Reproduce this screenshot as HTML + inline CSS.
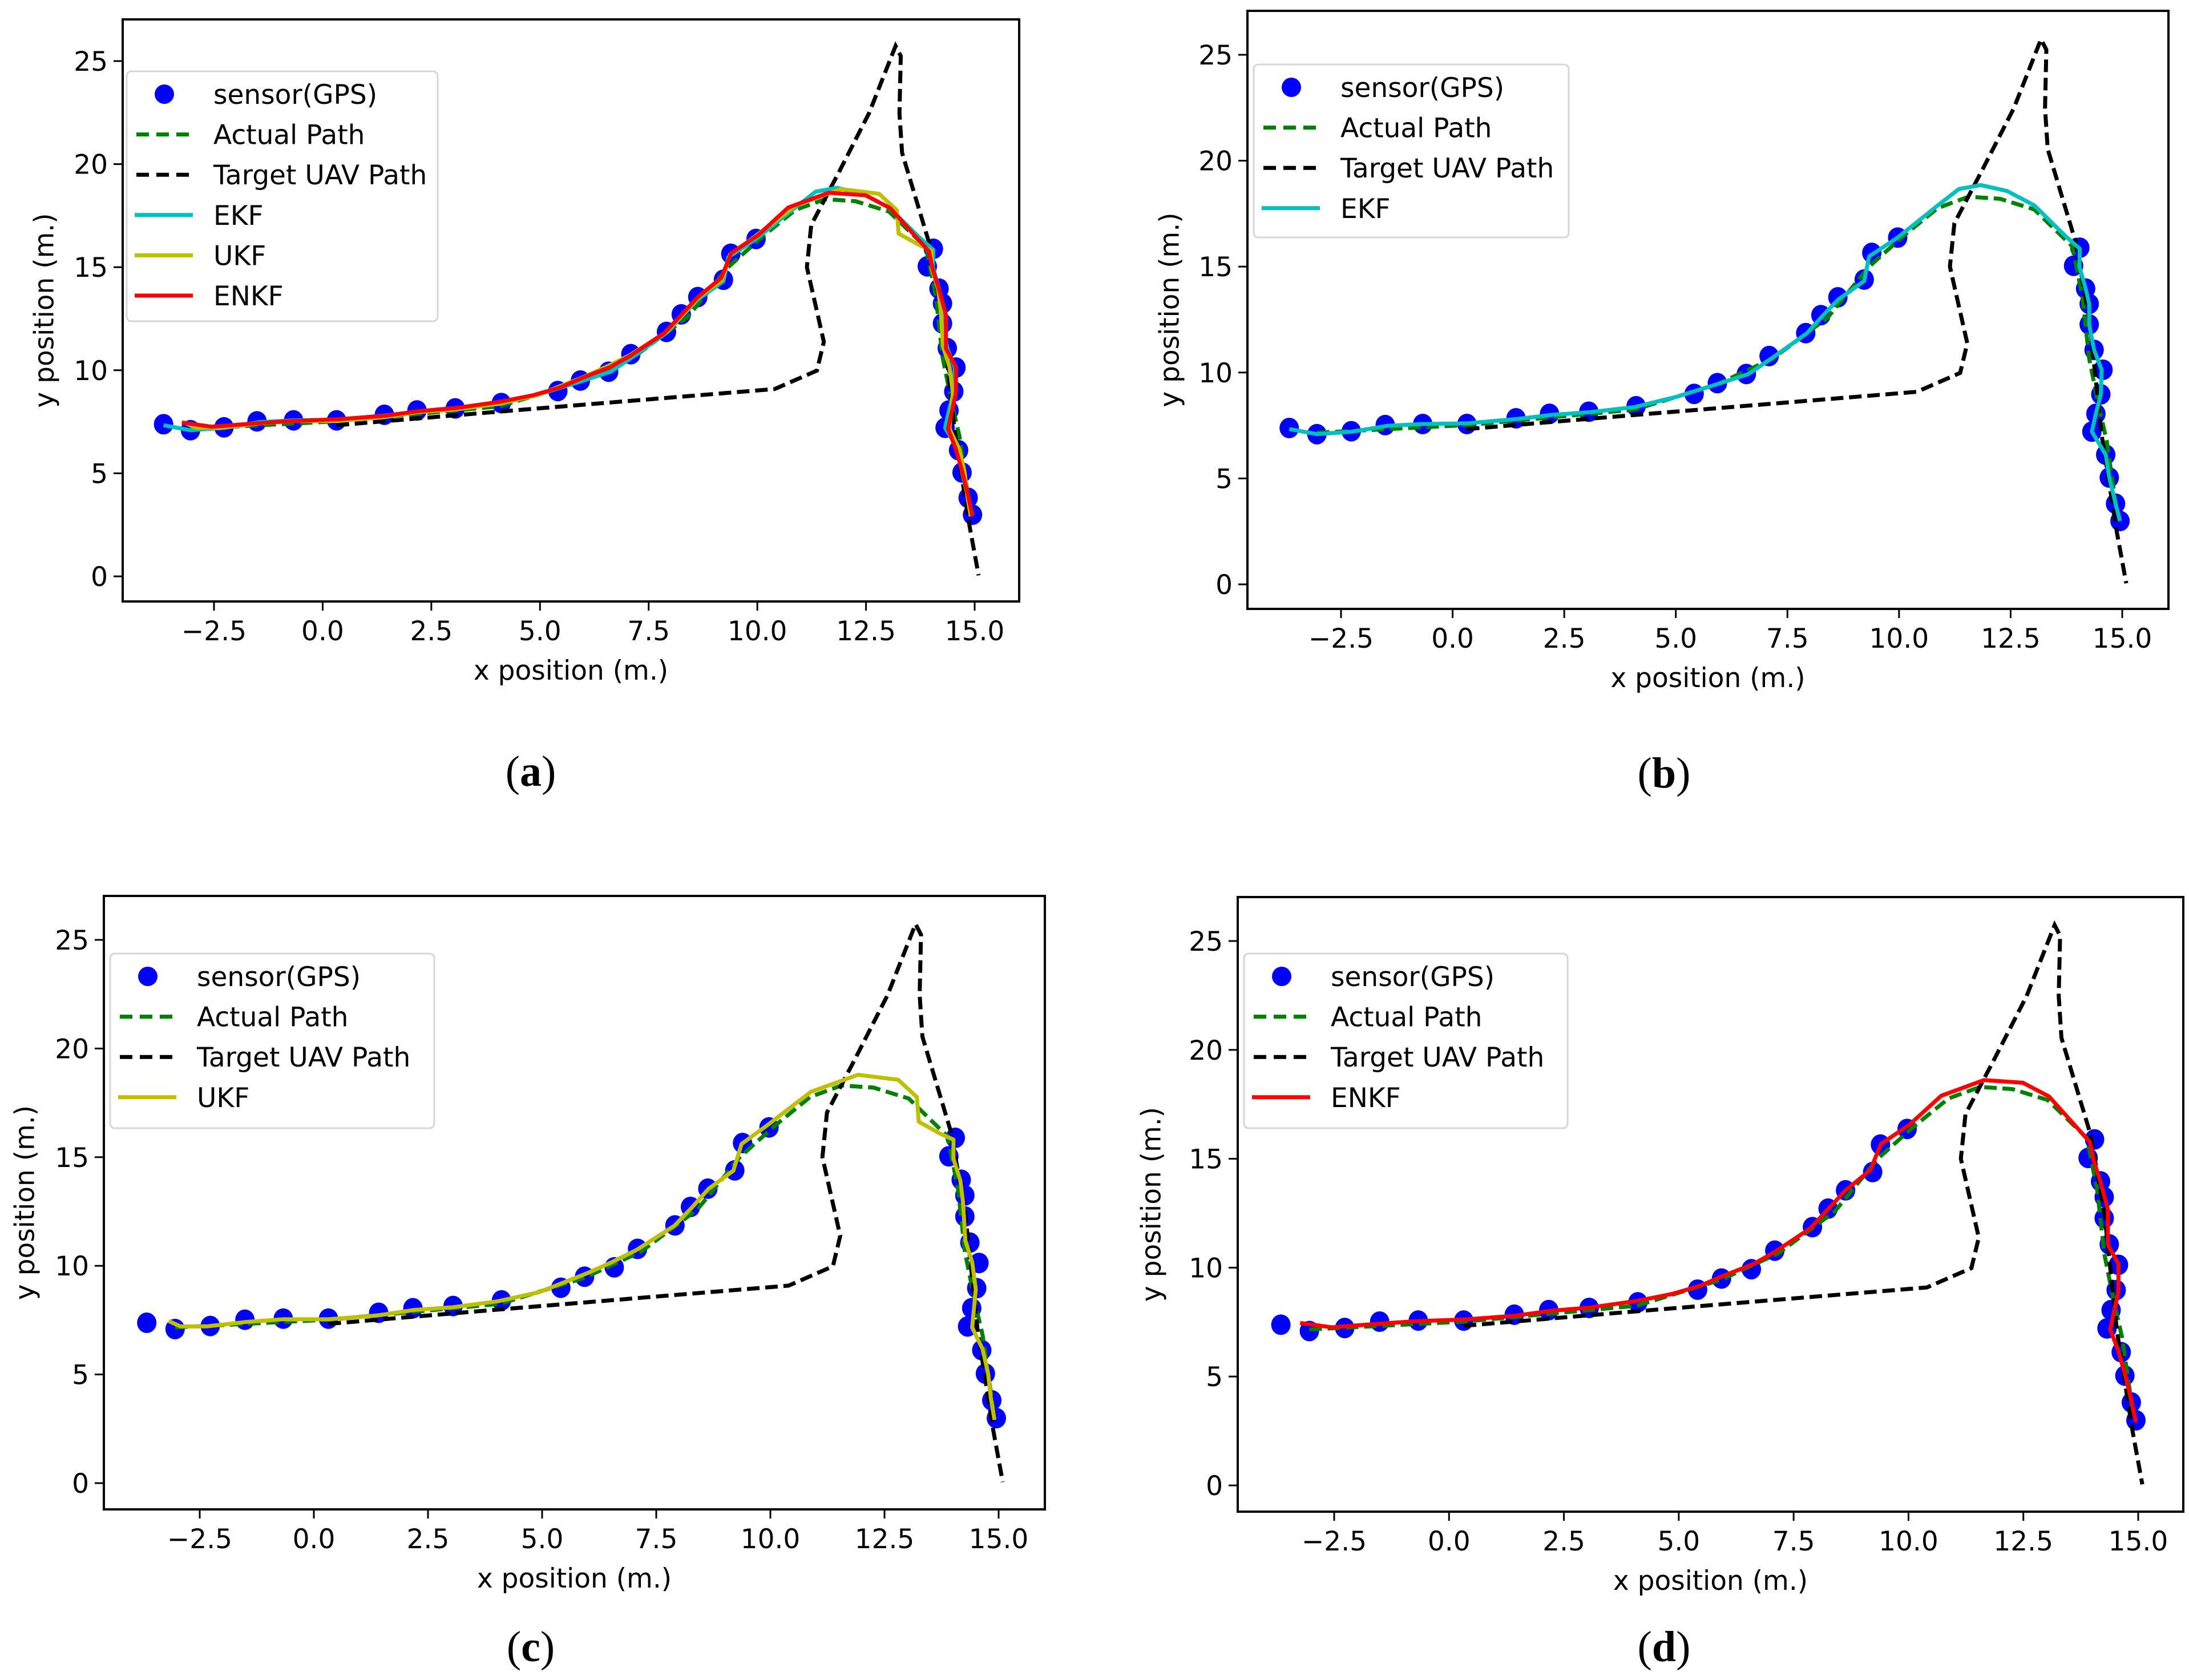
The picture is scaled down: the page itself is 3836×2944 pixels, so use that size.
<!DOCTYPE html>
<html><head><meta charset="utf-8">
<style>
html,body{margin:0;padding:0;background:#fff;}
svg{display:block;}
text{font-family:"DejaVu Sans","Liberation Sans",sans-serif;}
.cap{font-family:"Liberation Serif",serif;}
</style></head>
<body>
<svg id="fig" width="3836" height="2944" viewBox="0 0 3836 2944" xmlns="http://www.w3.org/2000/svg"></svg>
<script>
// ---- data (x, y in metres) ----
const gpsX=[-3.66,-3.04,-2.27,-1.51,-0.67,0.32,1.42,2.17,3.05,4.11,5.41,5.93,6.58,7.09,7.91,8.25,8.63,9.22,9.39,9.97,14.05,13.91,14.18,14.26,14.26,14.37,14.57,14.52,14.41,14.32,14.63,14.71,14.85,14.95];
const gpsY=[7.38,7.09,7.23,7.52,7.57,7.57,7.84,8.05,8.15,8.41,8.99,9.50,9.93,10.78,11.86,12.71,13.55,14.39,15.65,16.37,15.89,15.04,13.96,13.24,12.27,11.07,10.13,8.97,8.05,7.21,6.12,5.04,3.81,2.99];
const targetX=[0.32,4.11,10.4,11.37,11.53,11.14,11.24,11.87,12.57,13.18,13.3,13.27,13.33,13.95,14.26,14.54,14.88,15.09];
const targetY=[7.33,8.0,9.09,9.98,11.38,15.0,17.05,19.58,22.47,25.73,25.24,22.47,20.55,16.2,12.59,7.04,2.46,0.05];
const actualX=[-3.04,0.32,4.08,5.93,7.17,8.4,9.33,10.1,10.87,11.56,12.26,13.03,13.88,14.11,14.26,14.49,14.65,14.88];
const actualY=[7.16,7.52,8.25,9.45,10.66,12.59,15.0,16.45,17.77,18.3,18.2,17.7,15.96,13.55,10.66,8.25,6.8,3.42];
const ekfX=[-3.66,-3.04,-2.24,-1.47,-0.67,0.32,1.46,2.23,3.08,4.08,5.01,5.93,6.63,7.14,7.94,8.25,8.63,9.22,9.33,9.97,10.87,11.34,11.83,12.42,13.03,13.73,14.05,14.04,14.18,14.26,14.26,14.37,14.54,14.52,14.41,14.32,14.63,14.71,14.85,14.95];
const ekfY=[7.33,7.09,7.21,7.48,7.57,7.6,7.81,8.0,8.13,8.37,8.85,9.45,9.93,10.66,11.86,12.59,13.43,14.32,15.48,16.37,17.89,18.66,18.85,18.57,17.89,16.44,15.84,15.0,13.96,13.24,12.27,11.07,10.13,8.97,8.05,7.21,6.12,5.04,3.81,2.99];
const ukfX=[-3.18,-2.92,-2.35,-1.51,-0.68,0.31,1.37,2.2,3.04,4.03,4.94,6.0,6.53,7.06,7.9,8.28,8.65,9.19,9.37,9.94,10.89,11.92,12.8,13.21,13.25,13.74,14.01,14.01,14.16,14.22,14.27,14.42,14.5,14.42,14.65,14.77,14.83,14.91];
const ukfY=[7.46,7.21,7.21,7.41,7.54,7.54,7.71,7.97,8.09,8.37,8.79,9.67,10.17,10.72,11.85,12.68,13.55,14.38,15.61,16.48,18.01,18.79,18.56,17.76,16.63,16.06,15.81,14.93,13.93,12.93,11.17,10.17,8.92,7.16,6.16,5.03,3.91,2.91];
const enkfX=[-3.24,-2.55,-1.62,-0.7,0.35,1.43,2.23,3.08,4.08,4.85,5.47,5.93,6.63,7.09,7.86,8.25,8.63,9.17,9.4,10.02,10.71,11.64,12.49,13.06,13.95,14.03,14.18,14.34,14.34,14.57,14.57,14.39,14.57,14.72,14.85,14.95];
const enkfY=[7.46,7.26,7.41,7.54,7.62,7.79,8.02,8.17,8.47,8.79,9.17,9.59,10.17,10.72,11.8,12.68,13.55,14.48,15.68,16.56,17.89,18.61,18.49,17.86,15.76,14.93,13.93,12.68,11.05,10.17,8.92,7.16,6.16,5.03,3.91,2.91];
const xTicks=[-2.5,0.0,2.5,5.0,7.5,10.0,12.5,15.0];
const xTickLabels=["\u22122.5","0.0","2.5","5.0","7.5","10.0","12.5","15.0"];
const yTicks=[0,5,10,15,20,25];
const yTickLabels=["0","5","10","15","20","25"];

const NS="http://www.w3.org/2000/svg";
const svg=document.getElementById('fig');
function mk(tag,attrs,parent){const e=document.createElementNS(NS,tag);for(const k in attrs)e.setAttribute(k,attrs[k]);(parent||svg).appendChild(e);return e;}

const panels=[
 {id:'a',box:[215,34,1786,1054],xa:375,xb:1708,ya:1010,yb:107,leg:[222,125,767,563],ylx:78,cap:[930,1377],filters:['ekf','ukf','enkf']},
 {id:'b',box:[2186,19,3800,1067],xa:2350,xb:3719,ya:1024,yb:96,leg:[2197,113,2749,416],ylx:2050,cap:[2916,1380],filters:['ekf']},
 {id:'c',box:[182,1570,1831,2645],xa:350,xb:1750,ya:2599,yb:1647,leg:[193,1671,761,1977],ylx:44,cap:[930,2911],filters:['ukf']},
 {id:'d',box:[2169,1572,3826,2649],xa:2338,xb:3747,ya:2603,yb:1649,leg:[2180,1671,2747,1977],ylx:2018,cap:[2916,2911],filters:['enkf']}
];
const filt={ekf:{x:ekfX,y:ekfY,c:'#00bfbf',n:'EKF'},ukf:{x:ukfX,y:ukfY,c:'#bfbf00',n:'UKF'},enkf:{x:enkfX,y:enkfY,c:'#ff0000',n:'ENKF'}};

panels.forEach(p=>{
  const g=mk('g',{});
  
  
  const sx=v=>p.xa+(v+2.5)*(p.xb-p.xa)/17.5;
  const sy=v=>p.ya+v*(p.yb-p.ya)/25;
  const [L,T,R,B]=p.box;
  const clipId='clip'+p.id;
  const cp=mk('clipPath',{id:clipId},g);mk('rect',{x:L,y:T,width:R-L,height:B-T},cp);
  const plot=mk('g',{'clip-path':'url(#'+clipId+')'},g);
  
  
  const pts=(xs,ys)=>xs.map((x,i)=>sx(x).toFixed(1)+','+sy(ys[i]).toFixed(1)).join(' ');
  gpsX.forEach((x,i)=>{
    const c=mk('ellipse',{cx:sx(x),cy:sy(gpsY[i]),rx:17,ry:18,fill:'#0000ff'},plot);
    
    
  });
  const ap=mk('polyline',{points:pts(actualX,actualY),fill:'none',stroke:'#008000','stroke-width':7,'stroke-dasharray':'22,10'},plot);
  
  
  const tp=mk('polyline',{points:pts(targetX,targetY),fill:'none',stroke:'#000','stroke-width':7,'stroke-dasharray':'22,10'},plot);
  
  
  p.filters.forEach(f=>{
    const d=filt[f];
    const l=mk('polyline',{points:pts(d.x,d.y),fill:'none',stroke:d.c,'stroke-width':7,'stroke-linejoin':'round'},plot);
    
    
  });
  const fr=mk('rect',{x:L,y:T,width:R-L,height:B-T,fill:'none',stroke:'#000','stroke-width':4},g);
  
  
  xTicks.forEach((v,i)=>{
    const x=sx(v);
    mk('line',{x1:x,y1:B,x2:x,y2:B+16,stroke:'#000','stroke-width':3},g);
    const t=mk('text',{x:x,y:B+68,'font-size':47,'text-anchor':'middle',fill:'#000'},g);
    t.textContent=xTickLabels[i];
    
    
  });
  yTicks.forEach((v,i)=>{
    const y=sy(v);
    mk('line',{x1:L-16,y1:y,x2:L,y2:y,stroke:'#000','stroke-width':3},g);
    const t=mk('text',{x:L-26,y:y+17,'font-size':47,'text-anchor':'end',fill:'#000'},g);
    t.textContent=yTickLabels[i];
    
    
  });
  const xl=mk('text',{x:(L+R)/2,y:B+137,'font-size':47,'text-anchor':'middle',fill:'#000'},g);
  xl.textContent='x position (m.)';
  
  
  const yc=(T+B)/2;
  const yl=mk('text',{x:p.ylx,y:yc,'font-size':47,'text-anchor':'middle',fill:'#000',transform:'rotate(-90 '+p.ylx+' '+yc+')','dominant-baseline':'central'},g);
  yl.textContent='y position (m.)';
  
  
  const [lx,ly,lr,lb]=p.leg;
  const lg=mk('g',{},g);
  
  
  mk('rect',{x:lx,y:ly,width:lr-lx,height:lb-ly,rx:8,fill:'#fff','fill-opacity':0.85,stroke:'#d6d6d6','stroke-width':3},lg);
  const entries=[{n:'sensor(GPS)',t:'dot'},{n:'Actual Path',t:'dash',c:'#008000'},{n:'Target UAV Path',t:'dash',c:'#000'}].concat(p.filters.map(f=>({n:filt[f].n,t:'line',c:filt[f].c})));
  entries.forEach((e,k)=>{
    const ry=ly+40+k*70.6;
    const eg=mk('g',{},lg);
    
    
    if(e.t==='dot') mk('ellipse',{cx:lx+66,cy:ry,rx:17,ry:17,fill:'#0000ff'},eg);
    else if(e.t==='dash') mk('line',{x1:lx+17,y1:ry,x2:lx+113,y2:ry,stroke:e.c,'stroke-width':7,'stroke-dasharray':'22,13'},eg);
    else mk('line',{x1:lx+14,y1:ry,x2:lx+116,y2:ry,stroke:e.c,'stroke-width':7},eg);
    const t=mk('text',{x:lx+152,y:ry+17,'font-size':47,fill:'#000'},eg);
    t.textContent=e.n;
  });
  const cap=mk('text',{x:p.cap[0],y:p.cap[1],'font-size':76,'text-anchor':'middle',fill:'#000',class:'cap'},g);
  cap.textContent='(';
  const b=mk('tspan',{'font-weight':'bold'},cap);b.textContent=p.id;
  const cl=mk('tspan',{},cap);cl.textContent=')';
  
  
});
</script>
</body></html>
